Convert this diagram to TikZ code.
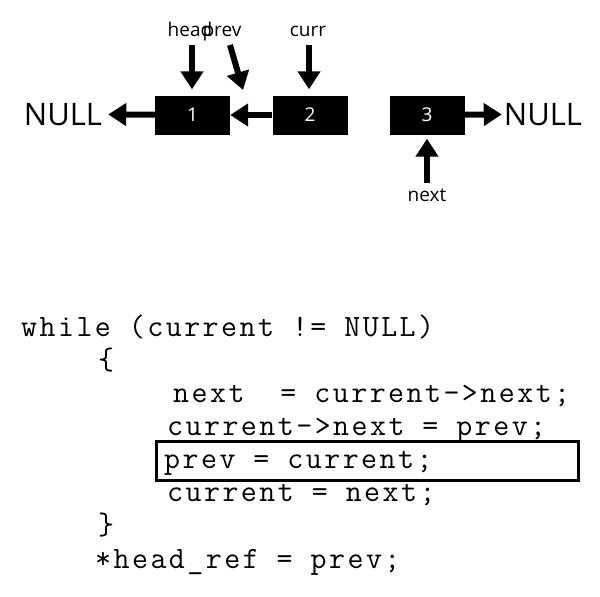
\documentclass[tikz,border=0pt]{standalone}
\usepackage{fontspec}
\setmainfont{Open Sans}
\newfontfamily\codefont[LetterSpace=8]{Latin Modern Mono}
\newcommand\codesetup{\codefont\fontsize{31}{31}\selectfont}
\newcommand\sk{\hspace*{18pt}}
\usetikzlibrary{arrows.meta,positioning}

\begin{document}
\begin{tikzpicture}[x=1pt,y=-1pt]
\tikzstyle{cell} = [fill=black, text=white, minimum width=75pt, minimum height=39pt, inner sep=0pt, font=\fontsize{19}{19}\selectfont]
\tikzstyle{ptr} = [line width=6pt, -{Triangle[length=18pt,width=22pt]}]
\tikzstyle{lbl} = [inner sep=0pt, anchor=base, font=\fontsize{19}{19}\selectfont]
\tikzstyle{nul} = [inner ysep=0pt, anchor=base, font=\fontsize{31}{31}\selectfont]
\tikzstyle{code} = [anchor=base west, inner sep=0pt, font=\codesetup]
\useasboundingbox (0,0) rectangle (600,597);

% the list
\node [nul, inner xsep=6pt] (nullL) at (63,125) {NULL};
\node [nul, inner xsep=2pt] (nullR) at (543,125) {NULL};
\node [cell] (box1) at (192.5,115) {1}
	edge [ptr] (nullL);
\node [cell] (box2) at (310,115) {2}
	edge [ptr] (box1);
\node [cell] (box3) at (427,115) {3}
	edge [ptr] (nullR);

% pointers
\node [lbl] (head) at (190,36) {head};
\node [lbl] (prev) at (222,36) {prev};
\node [lbl] (curr) at (308,36) {curr};
\node [lbl] (next) at (427,201) {next};
\coordinate (hd) at (192,45);
\coordinate (pv) at (230,45);
\coordinate (pvtip) at (243,90);
\coordinate (cr) at (309,45);
\coordinate (nx) at (427,183);
\draw [ptr, shorten >=6pt] (hd) -- (hd |- box1.north);
\draw [ptr] (pv) -- (pvtip);
\draw [ptr, shorten >=6pt] (cr) -- (cr |- box2.north);
\draw [ptr, shorten >=4pt] (nx) -- (nx |- box3.south);

% the code
\node [draw, line width=3pt, minimum width=422pt, minimum height=39pt] (hl) at (367.5,461) {};
\node [code] (lwhile) at (21,336) {while\sk(current\sk!=\sk NULL)};
\node [code] (lopen) at (98,369) {\{};
\node [code] (lnext) at (173,402) {next\sk\sk=\sk current->next;};
\node [code] (lcnext) at (167,435) {current->next\sk=\sk prev;};
\node [code] (lprev) at (164,468) {prev\sk=\sk current;};
\node [code] (lcur) at (167,501) {current\sk=\sk next;};
\node [code] (lclose) at (98,534) {\}};
\node [code] (lhead) at (95,568) {*head\_ref\sk=\sk prev;};
\end{tikzpicture}
\end{document}
